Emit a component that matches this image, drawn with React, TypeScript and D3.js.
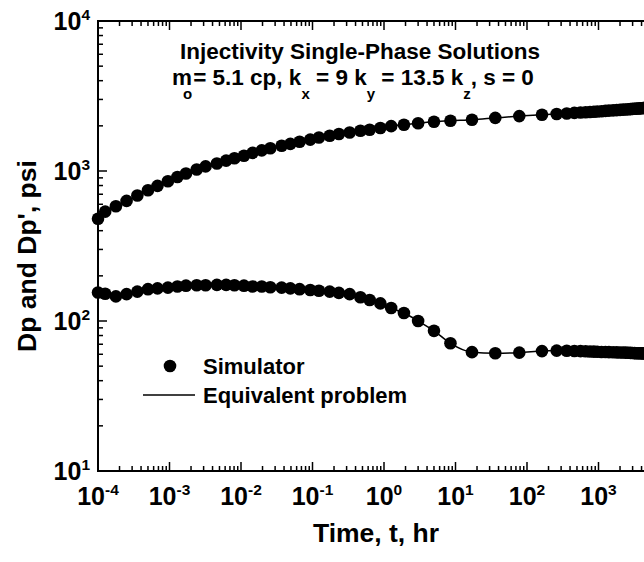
import React from "react";
import * as d3 from "d3";

// Simulator sample times (hr)
const simTime = [
  1.0e-4, 1.26e-4, 1.78e-4, 2.51e-4, 3.55e-4, 5.0e-4, 6.8e-4, 9.5e-4,
  1.29e-3, 1.7e-3, 2.4e-3, 3.2e-3, 4.6e-3, 6.2e-3, 8.1e-3, 0.011, 0.0145,
  0.0195, 0.0257, 0.037, 0.049, 0.066, 0.093, 0.123, 0.174, 0.234, 0.331,
  0.468, 0.63, 0.89, 1.26, 1.9, 3.0, 5.0, 8.5, 17, 36, 78, 162,
  260, 360, 460, 560, 660, 760, 860, 960, 1100, 1250, 1400, 1600, 1800,
  2000, 2200, 2400, 2600, 2800, 3000, 3200, 3400, 3600, 3800, 4000, 4200, 4400,
];
// Dp (upper curve), psi
const simDp = [
  481, 536, 582, 632, 686, 745, 796, 854, 912, 962, 1023, 1074, 1122, 1173,
  1216, 1264, 1321, 1373, 1418, 1474, 1516, 1566, 1619, 1671, 1717, 1765,
  1805, 1856, 1884, 1936, 1991, 2036, 2083, 2129, 2163, 2198, 2259, 2322, 2372,
  2400, 2420, 2440, 2455, 2465, 2475, 2485, 2495, 2505, 2515, 2525, 2535, 2545,
  2555, 2565, 2572, 2580, 2587, 2594, 2600, 2606, 2612, 2617, 2622, 2627, 2632,
];
// Dp' (lower curve, derivative), psi
const simDpd = [
  155, 152, 146, 151, 157, 163, 165, 167, 170, 172, 173, 173, 174, 174, 173,
  172, 170, 170, 168, 167, 165, 163, 161, 159, 157, 154, 151, 144, 138, 131,
  122, 113, 100, 86, 71, 62, 61, 61.5, 63,
  63.5, 63.3, 63.1, 63, 62.8, 62.6, 62.5, 62.4, 62.2, 62.1, 62, 61.9, 61.8,
  61.7, 61.6, 61.5, 61.4, 61.3, 61.2, 61.1, 61, 61, 60.9, 60.8, 60.8, 60.7,
];
// Equivalent problem (analytical) curves
const eqTime = simTime;
const eqDp = simDp;
const eqDpd = simDpd;

const xMajor = [1e-4, 1e-3, 1e-2, 1e-1, 1e0, 1e1, 1e2, 1e3];
const xExp = ["-4", "-3", "-2", "-1", "0", "1", "2", "3"];
const yMajor = [1e1, 1e2, 1e3, 1e4];
const yExp = ["1", "2", "3", "4"];

const W = 644;
const H = 562;
const FONT = "'Liberation Sans', Arial, Helvetica, sans-serif";

export default function App() {
  const x = d3.scaleLog().domain([1e-4, 1e4]).range([98, 670]);
  const y = d3.scaleLog().domain([10, 1e4]).range([471, 21]);
  const [x0, x1] = x.range();
  const [yb, yt] = y.range();

  const xt = x.ticks();
  const yTicks = y.ticks();
  const isMajor = (v: number) => Math.abs(Math.log10(v) - Math.round(Math.log10(v))) < 1e-9;

  const line = d3
    .line<number>()
    .x((_, i) => x(eqTime[i]))
    .curve(d3.curveMonotoneX);
  const upperPath = line.y((d) => y(d))(eqDp) || "";
  const lowerPath = line.y((d) => y(d))(eqDpd) || "";

  return (
    <svg
      width={W}
      height={H}
      style={{ position: "absolute", left: 0, top: 0, background: "#fff" }}
      fontFamily={FONT}
      fontWeight="bold"
    >
      <rect x={0} y={0} width={W} height={H} fill="#fff" />
      {/* curves */}
      <path d={upperPath} fill="none" stroke="#000" strokeWidth={1.5} />
      <path d={lowerPath} fill="none" stroke="#000" strokeWidth={1.5} />
      {simTime.map((t, i) => (
        <circle key={"u" + i} cx={x(t)} cy={y(simDp[i])} r={6.3} fill="#000" />
      ))}
      {simTime.map((t, i) => (
        <circle key={"l" + i} cx={x(t)} cy={y(simDpd[i])} r={6.3} fill="#000" />
      ))}

      {/* axes frame */}
      <line x1={x0} x2={x1} y1={yb} y2={yb} stroke="#000" strokeWidth={2} />
      <line x1={x0} x2={x1} y1={yt} y2={yt} stroke="#000" strokeWidth={2} />
      <line x1={x0} x2={x0} y1={yt - 1} y2={yb + 1} stroke="#000" strokeWidth={2} />

      {/* x ticks (inward) */}
      {xt.map((v, i) => {
        const L = isMajor(v) ? 9 : 5;
        const px = x(v);
        return (
          <g key={"xt" + i}>
            <line x1={px} x2={px} y1={yb} y2={yb - L} stroke="#000" strokeWidth={1.5} />
            <line x1={px} x2={px} y1={yt} y2={yt + L} stroke="#000" strokeWidth={1.5} />
          </g>
        );
      })}
      {/* y ticks (inward) */}
      {yTicks.map((v, i) => {
        const L = isMajor(v) ? 9 : 5;
        const py = y(v);
        return <line key={"yt" + i} x1={x0} x2={x0 + L} y1={py} y2={py} stroke="#000" strokeWidth={1.5} />;
      })}

      {/* x tick labels */}
      {xMajor.map((v, i) => (
        <text key={"xl" + i} x={x(v)} y={505} fontSize={25} textAnchor="middle">
          <tspan>10</tspan>
          <tspan fontSize={15.5} dy={-10}>{xExp[i]}</tspan>
        </text>
      ))}
      {/* y tick labels */}
      {yMajor.map((v, i) => (
        <text key={"yl" + i} x={90} y={y(v) + 9} fontSize={25} textAnchor="end">
          <tspan>10</tspan>
          <tspan fontSize={15.5} dy={-10}>{yExp[i]}</tspan>
        </text>
      ))}

      {/* axis titles */}
      <text x={376} y={542} fontSize={26.5} textAnchor="middle">Time, t, hr</text>
      <text transform="translate(36,256) rotate(-90)" fontSize={26.5} textAnchor="middle">
        Dp and Dp', psi
      </text>

      {/* annotation */}
      <text x={360} y={59} fontSize={22.5} textAnchor="middle">
        Injectivity Single-Phase Solutions
      </text>
      <text x={172} y={85} fontSize={22.5}>
        <tspan>m</tspan>
        <tspan fontSize={15} dx={-9} dy={14}>o</tspan>
        <tspan dx={1} dy={-14}>= 5.1 cp, k</tspan>
        <tspan fontSize={15} dy={14}>x</tspan>
        <tspan dy={-14}> = 9 k</tspan>
        <tspan fontSize={15} dy={14}>y</tspan>
        <tspan dy={-14}> = 13.5 k</tspan>
        <tspan fontSize={15} dy={14}>z</tspan>
        <tspan dy={-14}>, s = 0</tspan>
      </text>

      {/* legend */}
      <circle cx={170} cy={366} r={6.3} fill="#000" />
      <text x={203} y={374} fontSize={22}>Simulator</text>
      <line x1={143} x2={195} y1={395} y2={395} stroke="#000" strokeWidth={1.5} />
      <text x={203} y={403} fontSize={22}>Equivalent problem</text>
    </svg>
  );
}
